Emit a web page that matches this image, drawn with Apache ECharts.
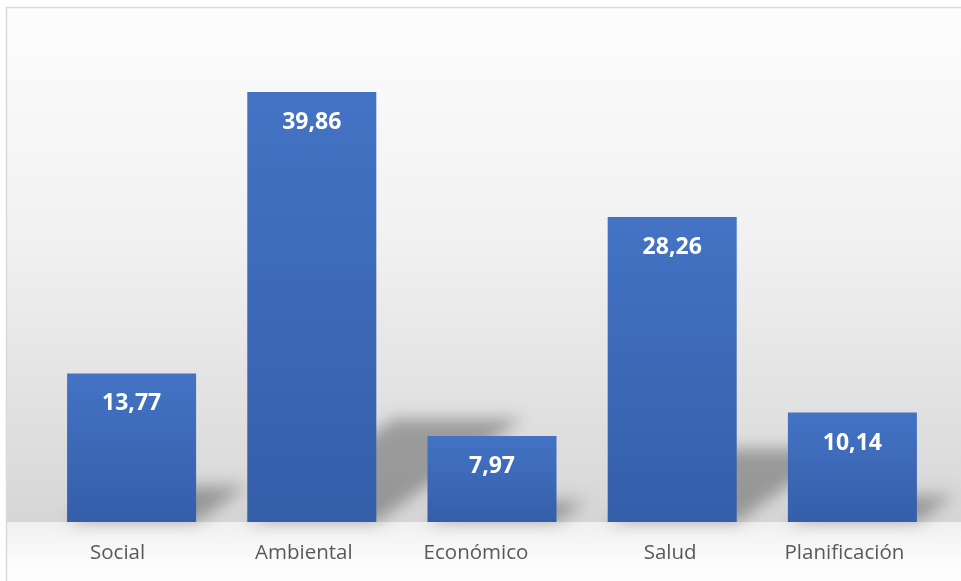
<!DOCTYPE html>
<html>
<head>
<meta charset="utf-8">
<script src="https://cdn.jsdelivr.net/npm/echarts@6/dist/echarts.min.js"></script>
<style>
  html, body { margin: 0; padding: 0; background: #fff; }
  #chart { width: 961px; height: 581px; }
</style>
</head>
<body>
<div id="chart"></div>
<script>
// categorías y valores
const categories = ['Social', 'Ambiental', 'Económico', 'Salud', 'Planificación']
const values = [13.77, 39.86, 7.97, 28.26, 10.14]

const chart = echarts.init(document.getElementById('chart'))

// desplazamiento a la izquierda de cada etiqueta (px), como en el original
const labelShift = [14, 8, 16, 2, 8]

// sombra en perspectiva detrás de cada barra (solo se ve la sombra difuminada)
const OFF = 3000
function renderShadow(params, api) {
  const base = api.coord([api.value(0), 0])
  const top = api.coord([api.value(0), api.value(1)])
  const size = api.size([1, 0])
  const w = size[0] * 0.716
  const h = base[1] - top[1]
  const x0 = base[0] - w / 2 + OFF
  const x1 = base[0] + w / 2 + OFF
  const dx = h * 0.34
  const dy = h * 0.24
  return {
    type: 'polygon',
    shape: { points: [[x0, base[1]], [x1, base[1]], [x1 + dx, base[1] - dy], [x0 + dx, base[1] - dy]] },
    style: {
      fill: '#000',
      shadowBlur: 16,
      shadowOffsetX: -OFF,
      shadowColor: 'rgba(0,0,0,0.3)'
    },
    silent: true
  }
}

const option = {
  backgroundColor: '#fff',
  animation: false,
  graphic: [
    {
      type: 'rect', z: -10, silent: true,
      shape: { x: 6, y: 7, width: 980, height: 515 },
      style: {
        fill: new echarts.graphic.LinearGradient(0, 0, 0, 1, [
          { offset: 0, color: '#fdfdfd' },
          { offset: 0.45, color: '#f1f1f1' },
          { offset: 1, color: '#d6d6d6' }
        ])
      }
    },
    {
      type: 'rect', z: -10, silent: true,
      shape: { x: 6, y: 522, width: 980, height: 70 },
      style: {
        fill: new echarts.graphic.LinearGradient(0, 0, 0, 1, [
          { offset: 0, color: '#f0f0f0' },
          { offset: 0.5, color: '#fafafa' },
          { offset: 1, color: '#ffffff' }
        ])
      }
    },
    {
      type: 'rect', z: 10, silent: true,
      shape: { x: 6.5, y: 7.5, width: 980, height: 600 },
      style: { fill: 'none', stroke: '#d9d9d9', lineWidth: 1.5 }
    }
  ],
  grid: { left: 41.5, right: 18.5, top: 90.4, bottom: 59 },
  xAxis: {
    type: 'category',
    data: categories.map((c, i) => ({ value: c, textStyle: { padding: [0, labelShift[i] * 2, 0, 0] } })),
    axisLine: { show: false },
    axisTick: { show: false },
    axisLabel: { color: '#595959', fontSize: 20.5, fontFamily: 'Open Sans', margin: 21 }
  },
  yAxis: {
    type: 'value',
    min: 0,
    max: 40,
    show: false,
    splitLine: { show: false }
  },
  series: [
    {
      type: 'custom',
      renderItem: renderShadow,
      clip: false,
      data: values.map((v, i) => [i, v]),
      z: 1
    },
    {
      type: 'bar',
      data: values,
      barCategoryGap: '28.4%',
      z: 2,
      itemStyle: {
        color: new echarts.graphic.LinearGradient(0, 0, 0, 1, [
          { offset: 0, color: '#4473c5' },
          { offset: 1, color: '#345ea8' }
        ])
      },
      label: {
        show: true,
        position: 'insideTop',
        distance: 19,
        color: '#fff',
        fontSize: 23,
        fontWeight: 'bold',
        fontFamily: 'Open Sans',
        formatter: p => p.value.toFixed(2).replace('.', ',')
      }
    }
  ]
}

chart.setOption(option)
</script>
</body>
</html>
